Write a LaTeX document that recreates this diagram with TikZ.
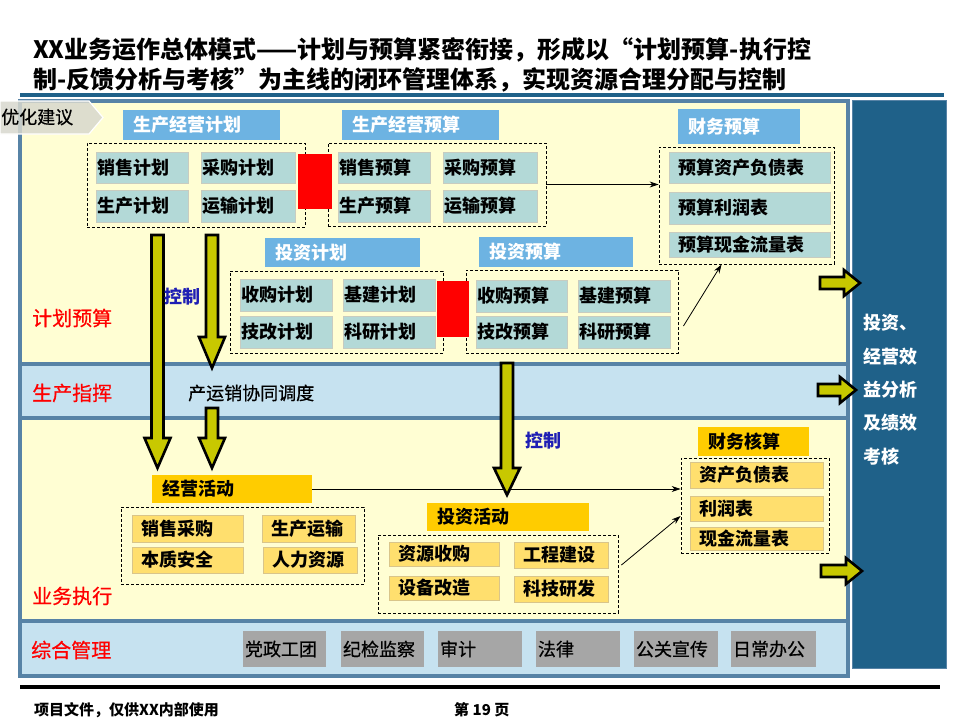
\documentclass[tikz,border=0pt]{standalone}
\usepackage{fontspec}
\setmainfont{Noto Sans CJK SC}
\newfontfamily\medfont{Noto Sans CJK SC}[FakeBold=0.6]
\usetikzlibrary{arrows.meta,calc}
\definecolor{darkblue}{HTML}{1F6189}
\definecolor{panelline}{HTML}{5783A6}
\definecolor{bandY}{HTML}{FFFED3}
\definecolor{bandB}{HTML}{C6E2F0}
\definecolor{hdrblue}{HTML}{6DB3E2}
\definecolor{tealbox}{HTML}{B3D9D7}
\definecolor{tealedge}{HTML}{C8CCC0}
\definecolor{goldhdr}{HTML}{FFCC00}
\definecolor{goldbox}{HTML}{FFDF6E}
\definecolor{goldedge}{HTML}{D9C58A}
\definecolor{grayb}{HTML}{A6A6A6}
\definecolor{arrowy}{HTML}{C8C800}
\definecolor{ctrlblue}{HTML}{1E1EB4}
\definecolor{tabgray}{HTML}{D8D8CE}
\newcommand\fsz[1]{\fontsize{#1}{#1}\selectfont}
% name, x1, y1, x2, y2, box style, text style, text
\newcommand\bx[8]{%
  \node[#6, minimum width={#4-#2}, minimum height={#5-#3}, inner sep=0pt] (#1) at ({(#2+#4)/2},{(#3+#5)/2}) {};
  \node[anchor=west, inner sep=0pt, #7] (#1t) at (#1.west) {#8};}
% name, x1, y1, x2, y2
\newcommand\grpbox[5]{%
  \node[grp, minimum width={#4-#2}, minimum height={#5-#3}, inner sep=0pt] (#1) at ({(#2+#4)/2},{(#3+#5)/2}) {};}
% cx, ytop, yhead, ytip
\newcommand\darr[4]{%
  \draw[blockarrow] (#1-6,#2) -- (#1+6,#2) -- (#1+6,#3) -- (#1+13,#3) -- (#1,#4) -- (#1-13,#3) -- (#1-6,#3) -- cycle;}
% x1, xtip, yc
\newcommand\rarr[3]{%
  \draw[blockarrow] (#1,#3-6) -- (#2-16,#3-6) -- (#2-16,#3-13) -- (#2,#3) -- (#2-16,#3+13) -- (#2-16,#3+6) -- (#1,#3+6) -- cycle;}
\begin{document}
\begin{tikzpicture}[x=1pt,y=-1pt,
  blockarrow/.style={fill=arrowy, draw=black, line width=2.6pt, line join=miter},
  grp/.style={draw=black, dash pattern=on 3pt off 2pt, line width=0.9pt},
  hdrB/.style={fill=hdrblue},
  hdrT/.style={text=white, font=\bfseries\fsz{18}, xshift=10pt},
  tealB/.style={fill=tealbox, draw=tealedge, line width=1pt},
  tealT/.style={font=\bfseries\fsz{18}, xshift=2pt},
  goldH/.style={fill=goldhdr},
  goldB/.style={fill=goldbox, draw=goldedge, line width=1pt},
  goldT/.style={font=\bfseries\fsz{18}, xshift=10pt},
  grayB/.style={fill=grayb},
  grayT/.style={font=\medfont\fsz{18}, xshift=2pt},
  redB/.style={fill=red},
  conn/.style={-{Stealth[length=9pt,width=6pt]}, line width=0.8pt},
  bandlabel/.style={anchor=west, inner sep=0pt, text=red, font=\medfont\fsz{20}},
  ctrl/.style={anchor=west, inner sep=0pt, text=ctrlblue, font=\bfseries\fsz{18}},
]
\useasboundingbox (0,0) rectangle (960,720);
\fill[white] (0,0) rectangle (960,720);

% title
\node[anchor=west, inner sep=0pt, font=\bfseries\fsz{24}] (title1) at (33,50) {XX业务运作总体模式——计划与预算紧密衔接，形成以“计划预算-执行控};
\node[anchor=west, inner sep=0pt, font=\bfseries\fsz{24}] (title2) at (33,80) {制-反馈分析与考核”为主线的闭环管理体系，实现资源合理分配与控制};
\fill[darkblue] (20,93) rectangle (944,97);

% bands
\fill[bandY] (20,101) rectangle (848,364);
\fill[bandB] (20,364) rectangle (848,418);
\fill[bandY] (20,418) rectangle (848,621);
\fill[bandB] (20,621) rectangle (848,676);
\draw[panelline, line width=3.5pt] (20,364) -- (848,364) (20,418) -- (848,418) (20,621) -- (848,621);
\draw[panelline, line width=3.5pt] (20,101) rectangle (848,676);

% right panel
\node[fill=darkblue, draw=panelline, line width=0.8pt, minimum width=94pt, minimum height=568pt, inner sep=0pt] (rp) at (899,384) {};
\foreach \t/\yy in {投资、/323, 经营效/357, 益分析/390, 及绩效/423, 考核/457}
  \node[anchor=west, inner sep=0pt, text=white, font=\bfseries\fsz{18}] at (863,\yy) {\t};

% band labels
\node[bandlabel] (l1) at (32,318) {计划预算};
\node[bandlabel] (l2) at (32,393) {生产指挥};
\node[bandlabel] (l3) at (32,596) {业务执行};
\node[bandlabel] (l4) at (31,650) {综合管理};
\node[anchor=west, inner sep=0pt, font=\medfont\fsz{18}] (cyx) at (188,393) {产运销协同调度};

% plan headers
\bx{h1}{123}{110}{280}{140}{hdrB}{hdrT}{生产经营计划}
\bx{h2}{342}{110}{499}{140}{hdrB}{hdrT}{生产经营预算}
\bx{h3}{678}{109}{800}{144}{hdrB}{hdrT}{财务预算}
\bx{h4}{265}{238}{420}{267}{hdrB}{hdrT}{投资计划}
\bx{h5}{479}{237}{633}{267}{hdrB}{hdrT}{投资预算}

% groups
\grpbox{gscjh}{87}{143}{305}{227}
\grpbox{gscys}{328}{143}{546}{226}
\grpbox{gcwys}{659}{147}{834}{264}
\grpbox{gtzjh}{230}{271}{443}{353}
\grpbox{gtzys}{466}{270}{678}{353}
\grpbox{gjyhd}{121}{507}{364}{584}
\grpbox{gtzhd}{378}{535}{618}{613}
\grpbox{gcwhs}{681}{458}{829}{553}

% production plan
\bx{a1}{96}{152}{188}{183}{tealB}{tealT}{销售计划}
\bx{a2}{201}{152}{295}{183}{tealB}{tealT}{采购计划}
\bx{a3}{96}{190}{188}{222}{tealB}{tealT}{生产计划}
\bx{a4}{201}{190}{295}{222}{tealB}{tealT}{运输计划}
% production budget
\bx{b1}{338}{152}{430}{183}{tealB}{tealT}{销售预算}
\bx{b2}{443}{152}{537}{183}{tealB}{tealT}{采购预算}
\bx{b3}{338}{190}{430}{222}{tealB}{tealT}{生产预算}
\bx{b4}{443}{190}{537}{222}{tealB}{tealT}{运输预算}
% financial budget
\bx{c1}{669}{152}{830}{183}{tealB}{goldT}{预算资产负债表}
\bx{c2}{669}{192}{830}{224}{tealB}{goldT}{预算利润表}
\bx{c3}{669}{232}{830}{257}{tealB}{goldT}{预算现金流量表}
% investment plan
\bx{d1}{240}{279}{332}{311}{tealB}{tealT}{收购计划}
\bx{d2}{343}{279}{435}{311}{tealB}{tealT}{基建计划}
\bx{d3}{240}{316}{332}{348}{tealB}{tealT}{技改计划}
\bx{d4}{343}{316}{435}{348}{tealB}{tealT}{科研计划}
% investment budget
\bx{e1}{476}{280}{567}{312}{tealB}{tealT}{收购预算}
\bx{e2}{578}{280}{670}{312}{tealB}{tealT}{基建预算}
\bx{e3}{476}{316}{567}{348}{tealB}{tealT}{技改预算}
\bx{e4}{578}{316}{670}{348}{tealB}{tealT}{科研预算}
% red blocks
\node[redB, minimum width=34pt, minimum height=55pt, inner sep=0pt] (red1) at (315,181.5) {};
\node[redB, minimum width=32pt, minimum height=56pt, inner sep=0pt] (red2) at (453,309) {};

% execution
\bx{hjy}{152}{475}{312}{503}{goldH}{goldT}{经营活动}
\bx{f1}{132}{515}{243}{542}{goldB}{goldT}{销售采购}
\bx{f2}{262}{515}{355}{542}{goldB}{goldT}{生产运输}
\bx{f3}{132}{547}{243}{573}{goldB}{goldT}{本质安全}
\bx{f4}{263}{547}{357}{573}{goldB}{goldT}{人力资源}
\bx{htz}{427}{503}{589}{531}{goldH}{goldT}{投资活动}
\bx{g1}{389}{542}{499}{566}{goldB}{goldT}{资源收购}
\bx{g2}{514}{542}{608}{568}{goldB}{goldT}{工程建设}
\bx{g3}{389}{576}{499}{600}{goldB}{goldT}{设备改造}
\bx{g4}{514}{576}{608}{602}{goldB}{goldT}{科技研发}
\bx{hcw}{698}{427}{809}{456}{goldH}{goldT}{财务核算}
\bx{k1}{690}{462}{823}{488}{goldB}{goldT}{资产负债表}
\bx{k2}{690}{496}{823}{521}{goldB}{goldT}{利润表}
\bx{k3}{690}{527}{823}{550}{goldB}{goldT}{现金流量表}

% general management
\bx{m1}{243}{631}{326}{667}{grayB}{grayT}{党政工团}
\bx{m2}{341}{631}{424}{667}{grayB}{grayT}{纪检监察}
\bx{m3}{438}{631}{522}{667}{grayB}{grayT}{审计}
\bx{m4}{536}{631}{620}{667}{grayB}{grayT}{法律}
\bx{m5}{634}{631}{718}{667}{grayB}{grayT}{公关宣传}
\bx{m6}{731}{631}{816}{667}{grayB}{grayT}{日常办公}

% connectors
\draw[conn] (gscys.east) -- (gscys.east -| gcwys.west);
\draw[conn] ([xshift=5pt,yshift=-14.5pt]gtzys.east) -- ([xshift=-25pt]gcwys.south);
\draw[conn] (hjy.east) -- (hjy.east -| gcwhs.west);
\draw[conn] ([xshift=3pt,yshift=9pt]gtzhd.east) -- ([yshift=-10.5pt]gcwhs.west);

% control arrows
\darr{157.5}{235}{438}{468}
\darr{212}{235}{337}{368}
\darr{212}{408}{438}{468}
\darr{507}{363}{468}{495}
\node[ctrl] (ctrl1) at (164,297) {控制};
\node[ctrl] (ctrl2) at (525,441) {控制};

% arrows to right panel
\rarr{820}{860}{283}
\rarr{818}{856}{390}
\rarr{821}{862}{571}

% tab
\draw[fill=tabgray, fill opacity=0.85, draw=white, line width=1.2pt] (0,101) -- (89,101) -- (103,117.5) -- (89,134) -- (0,134) -- cycle;
\node[anchor=west, inner sep=0pt, font=\medfont\fsz{18}] (tab) at (1,117) {优化建议};

% footer
\fill[black] (20,685) rectangle (940,689);
\node[anchor=west, inner sep=0pt, font=\bfseries\fsz{15}] (foot1) at (34,710) {项目文件，仅供XX内部使用};
\node[anchor=west, inner sep=0pt, font=\bfseries\fsz{15}] (foot2) at (454,710) {第 19 页};
\end{tikzpicture}
\end{document}
